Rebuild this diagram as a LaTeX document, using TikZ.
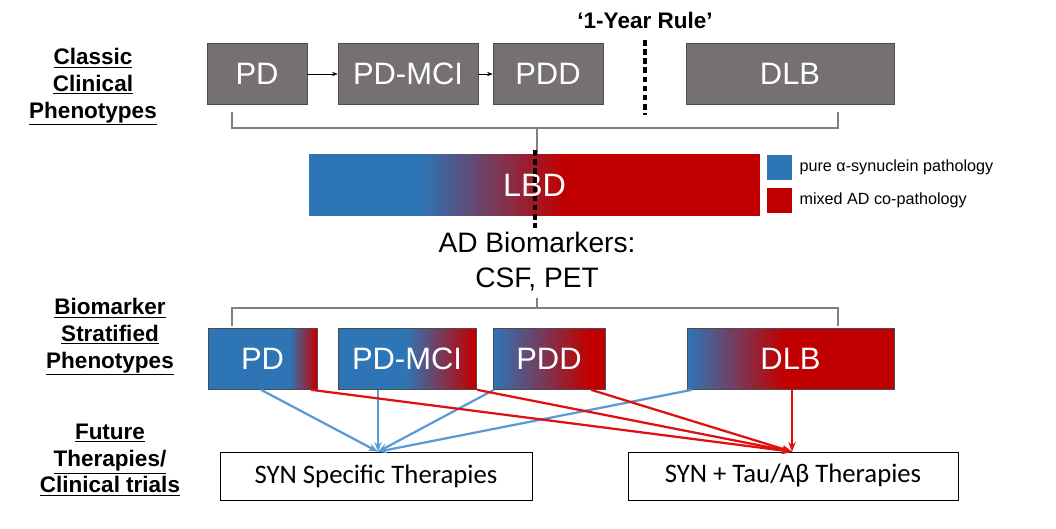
\documentclass[tikz,border=0pt]{standalone}
\usepackage{fontspec}
\setmainfont{Liberation Sans}
\newfontfamily\calfont{Carlito}
\usetikzlibrary{arrows.meta, positioning}
\definecolor{synblue}{HTML}{2E75B6}
\definecolor{adred}{HTML}{C00000}
\definecolor{phgray}{HTML}{767171}
\definecolor{arblue}{HTML}{5B9BD5}
\definecolor{arred}{HTML}{E01010}

% blue part, gradient part, red part of a bar: #1..#2 blue, #2..#3 graded, #3..#4 red, rows #5..#6
\newcommand{\pathobar}[6]{%
    \fill[synblue] (#1,#5) rectangle (#2,#6);
    \fill[adred] (#3,#5) rectangle (#4,#6);
    \foreach \i in {0,...,39}{
        \pgfmathsetmacro{\mix}{\i*100/39}
        \pgfmathsetmacro{\xa}{#2+(#3-#2)*\i/40}
        \pgfmathsetmacro{\xb}{#2+(#3-#2)*(\i+1)/40+0.4}
        \fill[adred!\mix!synblue] (\xa,#5) rectangle (\xb,#6);
    }
}

\begin{document}
\begin{tikzpicture}[
            x = 0.025cm, y = -0.025cm, % pixel grid
            box/.style = {draw = black!70, minimum height = 61*0.025cm,
                inner sep = 0pt, text = white, font = \fontsize{22}{24}\selectfont},
            gbox/.style = {box, fill = phgray},
            head/.style = {font = \fontsize{16}{19}\selectfont\bfseries, align = center},
            ther/.style = {draw = black, fill = white, minimum height = 48*0.025cm,
                font = \calfont\fontsize{19}{22}\selectfont},
            brace/.style = {draw = gray, thick},
            blu/.style = {arblue, line width = 1.6pt, -{Stealth[length=7pt]}},
            rd/.style = {arred, line width = 1.6pt, -{Stealth[length=7pt]}}
        ]
        \useasboundingbox (0,0) rectangle (1056,528);

        % row 1
        \node[gbox, minimum width = 100*0.025cm] (pd) at (257,74) {PD};
        \node[gbox, minimum width = 140*0.025cm] (pdmci) at (408,74) {PD-MCI};
        \node[gbox, minimum width = 110*0.025cm] (pdd) at (548,74) {PDD};
        \node[gbox, minimum width = 208*0.025cm] (dlb) at (790,74) {DLB};
        \draw[-{Stealth[length=4pt]}] (pd) -- (pdmci);
        \draw[-{Stealth[length=4pt]}] (pdmci) -- (pdd);
        \node[font = \fontsize{16}{19}\selectfont\bfseries] (rule) at (645,20) {`1-Year Rule'};
        \draw[line width = 3pt, dash pattern = on 4pt off 2.5pt] (645,40) -- (645,115);

        \draw[brace] (232,112) |- (838,128) -- (838,112);
        \coordinate (top) at (537,128);

        % LBD bar
        \pathobar{309}{419}{566}{760}{154}{216}
        \node[box, draw = none, minimum width = 451*0.025cm, font = \fontsize{23}{26}\selectfont] (lbd) at (534.5,185) {LBD};
        \draw[brace] (top) -- (lbd.north -| top);
        \draw[line width = 3pt, dash pattern = on 4pt off 2.5pt] (535,150) -- (535,228);

        % legend
        \node[fill = synblue, minimum size = 25*0.025cm, inner sep = 0pt] (lgb) at (779,167) {};
        \node[fill = adred, minimum size = 25*0.025cm, inner sep = 0pt] (lgr) at (779,200) {};
        \node[right = 2pt of lgb, font = \fontsize{11.5}{13}\selectfont] {pure α-synuclein pathology};
        \node[right = 2pt of lgr, font = \fontsize{11.5}{13}\selectfont] {mixed AD co-pathology};

        \node[align = center, font = \fontsize{20}{25}\selectfont] (bio) at (537,262) {AD Biomarkers:\\CSF, PET};
        \draw[brace] (537,298) -- (537,308);
        \draw[brace] (232,326) |- (838,308) -- (838,326);

        % row 2
        \pathobar{208}{290}{317}{317}{328}{390}
        \pathobar{338}{405}{476}{476}{328}{390}
        \pathobar{493}{493}{590}{605}{328}{390}
        \pathobar{687}{687}{785}{894}{328}{390}
        \node[box, minimum width = 109*0.025cm] (spd) at (262.5,359) {PD};
        \node[box, minimum width = 138*0.025cm] (spdmci) at (407,359) {PD-MCI};
        \node[box, minimum width = 112*0.025cm] (spdd) at (549,359) {PDD};
        \node[box, minimum width = 207*0.025cm] (sdlb) at (790.5,359) {DLB};

        % headings
        \node[head] (h1) at (93,87) {\underline{Classic}\\\underline{Clinical}\\\underline{Phenotypes}};
        \node[head] (h2) at (110,337) {\underline{Biomarker}\\\underline{Stratified}\\\underline{Phenotypes}};
        \node[head] (h3) at (110,460) {\underline{Future}\\\underline{Therapies/}\\\underline{Clinical trials}};

        % therapies
        \node[ther, minimum width = 312*0.025cm] (syn) at (376,476) {SYN Specific Therapies};
        \node[ther, minimum width = 330*0.025cm] (tau) at (793,476) {SYN + Tau/Aβ Therapies};

        \draw[blu] (spd.south -| 261,0) -- (syn.north -| 378,0);
        \draw[blu] (spdmci.south -| 378,0) -- (syn.north -| 378,0);
        \draw[blu] (spdd.south -| 494,0) -- (syn.north -| 378,0);
        \draw[blu] (sdlb.south -| 692,0) -- (syn.north -| 378,0);
        \draw[rd] (spd.south -| 311,0) -- (tau.north -| 792,0);
        \draw[rd] (spdmci.south -| 477,0) -- (tau.north -| 792,0);
        \draw[rd] (spdd.south -| 591,0) -- (tau.north -| 792,0);
        \draw[rd] (sdlb.south -| 792,0) -- (tau.north -| 792,0);
\end{tikzpicture}
\end{document}
